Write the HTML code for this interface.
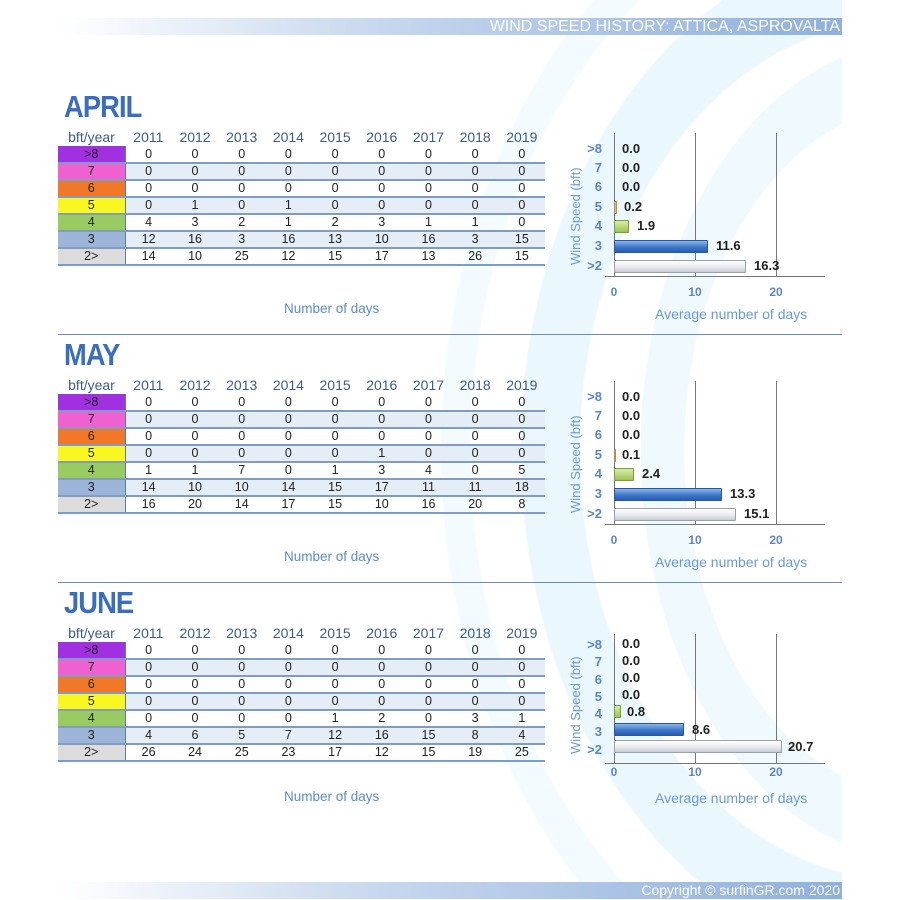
<!DOCTYPE html>
<html><head><meta charset="utf-8"><style>
*{margin:0;padding:0;box-sizing:border-box}
html,body{width:900px;height:900px;overflow:hidden;background:#fff}
#root{width:900px;height:900px;position:relative;overflow:hidden;font-family:"Liberation Sans",sans-serif}
.abs{position:absolute}
.bg{position:absolute;left:0;top:0;width:842px;height:900px;
background:
radial-gradient(ellipse 380px 510px at 900px 450px, transparent 84%, #eaf7fc 84.5%, #eaf7fc 99.5%, transparent 100%),
radial-gradient(ellipse 280px 410px at 920px 450px, transparent 84%, #f0f9fd 84.5%, #f0f9fd 99.5%, transparent 100%),
radial-gradient(ellipse 450px 600px at 890px 450px, transparent 93%, #f4fbfe 93.5%, #f4fbfe 99.5%, transparent 100%)}
.sec{position:absolute;left:0;width:900px;height:248px}
.title{position:absolute;left:64px;top:1px;font-size:31px;font-weight:bold;color:#3a6cc0;letter-spacing:-1px;transform:scaleX(0.88);transform-origin:left}
table{position:absolute;left:58px;top:40px;border-collapse:collapse;font-size:12.5px;color:#222}
td{height:17px;width:46.7px;text-align:center;border-bottom:2px solid #7f9cc4;padding:0;line-height:15px}
td.l{width:67px;border-right:1px solid #5a7aa8}
tr.h td{border:none;font-size:14px;color:#3d5c8c;height:18px;width:46.7px}
tr.h td.l{border:none}
tr.alt td{background:#e5edf7}
.nd{position:absolute;left:284px;top:213px;font-size:13.5px;color:#5d8ccc}
.yl{position:absolute;left:568px;top:115px;width:130px;font-size:13px;color:#6c9ad6;transform:rotate(-90deg);transform-origin:0 0;white-space:nowrap}
.cat{position:absolute;left:580px;width:22px;text-align:right;font-size:13px;font-weight:bold;color:#5a86c4}
.val{position:absolute;font-size:13px;font-weight:bold;color:#222}
.bar{position:absolute;left:614px;height:13px;border-radius:1px}
.b3{background:linear-gradient(#8cb4ea,#3a74c8 60%,#2a5cb0);border:1px solid #2a58a0}
.b2{background:linear-gradient(#fff,#e6e8ec 60%,#c8ccd4);border:1px solid #9aa2b0}
.b4{background:linear-gradient(#d8ecaa,#9cc450);border:1px solid #7a9e38}
.b5{background:#d8c088;border:1px solid #b09050}
.vg{position:absolute;width:1px;background:#777;top:45px;height:143px}
.tk{position:absolute;top:197px;font-size:12px;font-weight:bold;color:#5a86c4;width:30px;text-align:center}
.avg{position:absolute;left:655px;top:218px;font-size:14px;color:#6c9ad6}
.sep{position:absolute;left:58px;top:246px;width:784px;height:1px;background:#6a8cc0}
</style></head><body><div id="root">
<div class="bg"></div>

<div class="abs" style="left:60px;top:18px;width:782px;height:17px;background:linear-gradient(90deg,#fff 0%,#c8d8ee 40%,#8fb0dc 100%)"></div>
<div class="abs" style="left:440px;top:17px;width:400px;text-align:right;font-size:16px;color:#fff;line-height:19px">WIND SPEED HISTORY: ATTICA, ASPROVALTA</div>
<div class="abs" style="left:60px;top:882px;width:782px;height:17px;background:linear-gradient(90deg,#fff 0%,#c8d8ee 40%,#8fb0dc 100%)"></div>
<div class="abs" style="left:440px;top:881px;width:400px;text-align:right;font-size:14px;color:#fff;line-height:19px">Copyright © surfinGR.com 2020</div>

<!-- APRIL -->
<div class="sec" style="top:88px">
<div class="title">APRIL</div>
<table>
<tr class="h"><td class="l">bft/year</td><td>2011</td><td>2012</td><td>2013</td><td>2014</td><td>2015</td><td>2016</td><td>2017</td><td>2018</td><td>2019</td></tr>
<tr><td class="l" style="background:#a030e0">&gt;8</td><td>0</td><td>0</td><td>0</td><td>0</td><td>0</td><td>0</td><td>0</td><td>0</td><td>0</td></tr>
<tr class="alt"><td class="l" style="background:#f060d0">7</td><td>0</td><td>0</td><td>0</td><td>0</td><td>0</td><td>0</td><td>0</td><td>0</td><td>0</td></tr>
<tr><td class="l" style="background:#f07828">6</td><td>0</td><td>0</td><td>0</td><td>0</td><td>0</td><td>0</td><td>0</td><td>0</td><td>0</td></tr>
<tr class="alt"><td class="l" style="background:#f8f820">5</td><td>0</td><td>1</td><td>0</td><td>1</td><td>0</td><td>0</td><td>0</td><td>0</td><td>0</td></tr>
<tr><td class="l" style="background:#98cc60">4</td><td>4</td><td>3</td><td>2</td><td>1</td><td>2</td><td>3</td><td>1</td><td>1</td><td>0</td></tr>
<tr class="alt"><td class="l" style="background:#9bb4d8">3</td><td>12</td><td>16</td><td>3</td><td>16</td><td>13</td><td>10</td><td>16</td><td>3</td><td>15</td></tr>
<tr><td class="l" style="background:#dcdcdc">2&gt;</td><td>14</td><td>10</td><td>25</td><td>12</td><td>15</td><td>17</td><td>13</td><td>26</td><td>15</td></tr>
</table>
<div class="nd">Number of days</div>
<div class="yl" style="top:177px">Wind Speed (bft)</div>
<div class="vg" style="left:614px"></div><div class="vg" style="left:695px"></div><div class="vg" style="left:776px"></div>
<div class="abs" style="left:605px;top:188px;width:220px;height:1px;background:#777"></div>
<div class="cat" style="top:53px">&gt;8</div><div class="cat" style="top:72px">7</div><div class="cat" style="top:91px">6</div><div class="cat" style="top:111px">5</div><div class="cat" style="top:130px">4</div><div class="cat" style="top:150px">3</div><div class="cat" style="top:170px">&gt;2</div>
<div class="bar b5" style="top:113px;width:3px"></div>
<div class="bar b4" style="top:132px;width:15px"></div>
<div class="bar b3" style="top:152px;width:94px"></div>
<div class="bar b2" style="top:172px;width:132px"></div>
<div class="val" style="left:622px;top:53px">0.0</div><div class="val" style="left:622px;top:72px">0.0</div><div class="val" style="left:622px;top:91px">0.0</div><div class="val" style="left:624px;top:111px">0.2</div><div class="val" style="left:637px;top:130px">1.9</div><div class="val" style="left:716px;top:150px">11.6</div><div class="val" style="left:754px;top:170px">16.3</div>
<div class="tk" style="left:599px">0</div><div class="tk" style="left:680px">10</div><div class="tk" style="left:761px">20</div>
<div class="avg">Average number of days</div>
<div class="sep"></div>
</div>

<!-- MAY -->
<div class="sec" style="top:336px">
<div class="title">MAY</div>
<table>
<tr class="h"><td class="l">bft/year</td><td>2011</td><td>2012</td><td>2013</td><td>2014</td><td>2015</td><td>2016</td><td>2017</td><td>2018</td><td>2019</td></tr>
<tr><td class="l" style="background:#a030e0">&gt;8</td><td>0</td><td>0</td><td>0</td><td>0</td><td>0</td><td>0</td><td>0</td><td>0</td><td>0</td></tr>
<tr class="alt"><td class="l" style="background:#f060d0">7</td><td>0</td><td>0</td><td>0</td><td>0</td><td>0</td><td>0</td><td>0</td><td>0</td><td>0</td></tr>
<tr><td class="l" style="background:#f07828">6</td><td>0</td><td>0</td><td>0</td><td>0</td><td>0</td><td>0</td><td>0</td><td>0</td><td>0</td></tr>
<tr class="alt"><td class="l" style="background:#f8f820">5</td><td>0</td><td>0</td><td>0</td><td>0</td><td>0</td><td>1</td><td>0</td><td>0</td><td>0</td></tr>
<tr><td class="l" style="background:#98cc60">4</td><td>1</td><td>1</td><td>7</td><td>0</td><td>1</td><td>3</td><td>4</td><td>0</td><td>5</td></tr>
<tr class="alt"><td class="l" style="background:#9bb4d8">3</td><td>14</td><td>10</td><td>10</td><td>14</td><td>15</td><td>17</td><td>11</td><td>11</td><td>18</td></tr>
<tr><td class="l" style="background:#dcdcdc">2&gt;</td><td>16</td><td>20</td><td>14</td><td>17</td><td>15</td><td>10</td><td>16</td><td>20</td><td>8</td></tr>
</table>
<div class="nd">Number of days</div>
<div class="yl" style="top:177px">Wind Speed (bft)</div>
<div class="vg" style="left:614px"></div><div class="vg" style="left:695px"></div><div class="vg" style="left:776px"></div>
<div class="abs" style="left:605px;top:188px;width:220px;height:1px;background:#777"></div>
<div class="cat" style="top:53px">&gt;8</div><div class="cat" style="top:72px">7</div><div class="cat" style="top:91px">6</div><div class="cat" style="top:111px">5</div><div class="cat" style="top:130px">4</div><div class="cat" style="top:150px">3</div><div class="cat" style="top:170px">&gt;2</div>
<div class="bar b5" style="top:113px;width:2px"></div>
<div class="bar b4" style="top:132px;width:20px"></div>
<div class="bar b3" style="top:152px;width:108px"></div>
<div class="bar b2" style="top:172px;width:122px"></div>
<div class="val" style="left:622px;top:53px">0.0</div><div class="val" style="left:622px;top:72px">0.0</div><div class="val" style="left:622px;top:91px">0.0</div><div class="val" style="left:622px;top:111px">0.1</div><div class="val" style="left:642px;top:130px">2.4</div><div class="val" style="left:730px;top:150px">13.3</div><div class="val" style="left:744px;top:170px">15.1</div>
<div class="tk" style="left:599px">0</div><div class="tk" style="left:680px">10</div><div class="tk" style="left:761px">20</div>
<div class="avg">Average number of days</div>
<div class="sep"></div>
</div>

<!-- JUNE -->
<div class="sec" style="top:584px">
<div class="title">JUNE</div>
<table>
<tr class="h"><td class="l">bft/year</td><td>2011</td><td>2012</td><td>2013</td><td>2014</td><td>2015</td><td>2016</td><td>2017</td><td>2018</td><td>2019</td></tr>
<tr><td class="l" style="background:#a030e0">&gt;8</td><td>0</td><td>0</td><td>0</td><td>0</td><td>0</td><td>0</td><td>0</td><td>0</td><td>0</td></tr>
<tr class="alt"><td class="l" style="background:#f060d0">7</td><td>0</td><td>0</td><td>0</td><td>0</td><td>0</td><td>0</td><td>0</td><td>0</td><td>0</td></tr>
<tr><td class="l" style="background:#f07828">6</td><td>0</td><td>0</td><td>0</td><td>0</td><td>0</td><td>0</td><td>0</td><td>0</td><td>0</td></tr>
<tr class="alt"><td class="l" style="background:#f8f820">5</td><td>0</td><td>0</td><td>0</td><td>0</td><td>0</td><td>0</td><td>0</td><td>0</td><td>0</td></tr>
<tr><td class="l" style="background:#98cc60">4</td><td>0</td><td>0</td><td>0</td><td>0</td><td>1</td><td>2</td><td>0</td><td>3</td><td>1</td></tr>
<tr class="alt"><td class="l" style="background:#9bb4d8">3</td><td>4</td><td>6</td><td>5</td><td>7</td><td>12</td><td>16</td><td>15</td><td>8</td><td>4</td></tr>
<tr><td class="l" style="background:#dcdcdc">2&gt;</td><td>26</td><td>24</td><td>25</td><td>23</td><td>17</td><td>12</td><td>15</td><td>19</td><td>25</td></tr>
</table>
<div class="nd" style="top:205px">Number of days</div>
<div class="yl" style="top:170px">Wind Speed (bft)</div>
<div class="vg" style="left:614px;top:50px;height:129px"></div><div class="vg" style="left:695px;top:50px;height:129px"></div><div class="vg" style="left:776px;top:50px;height:129px"></div>
<div class="abs" style="left:605px;top:179px;width:220px;height:1px;background:#777"></div>
<div class="cat" style="top:53px">&gt;8</div><div class="cat" style="top:70px">7</div><div class="cat" style="top:88px">6</div><div class="cat" style="top:105px">5</div><div class="cat" style="top:122px">4</div><div class="cat" style="top:140px">3</div><div class="cat" style="top:158px">&gt;2</div>
<div class="bar b4" style="top:121px;width:7px"></div>
<div class="bar b3" style="top:139px;width:70px"></div>
<div class="bar b2" style="top:156px;width:168px"></div>
<div class="val" style="left:622px;top:52px">0.0</div><div class="val" style="left:622px;top:69px">0.0</div><div class="val" style="left:622px;top:86px">0.0</div><div class="val" style="left:622px;top:103px">0.0</div><div class="val" style="left:627px;top:120px">0.8</div><div class="val" style="left:692px;top:138px">8.6</div><div class="val" style="left:788px;top:155px">20.7</div>
<div class="tk" style="left:599px;top:181px">0</div><div class="tk" style="left:680px;top:181px">10</div><div class="tk" style="left:761px;top:181px">20</div>
<div class="avg" style="top:206px">Average number of days</div>
</div>
</div></body></html>
